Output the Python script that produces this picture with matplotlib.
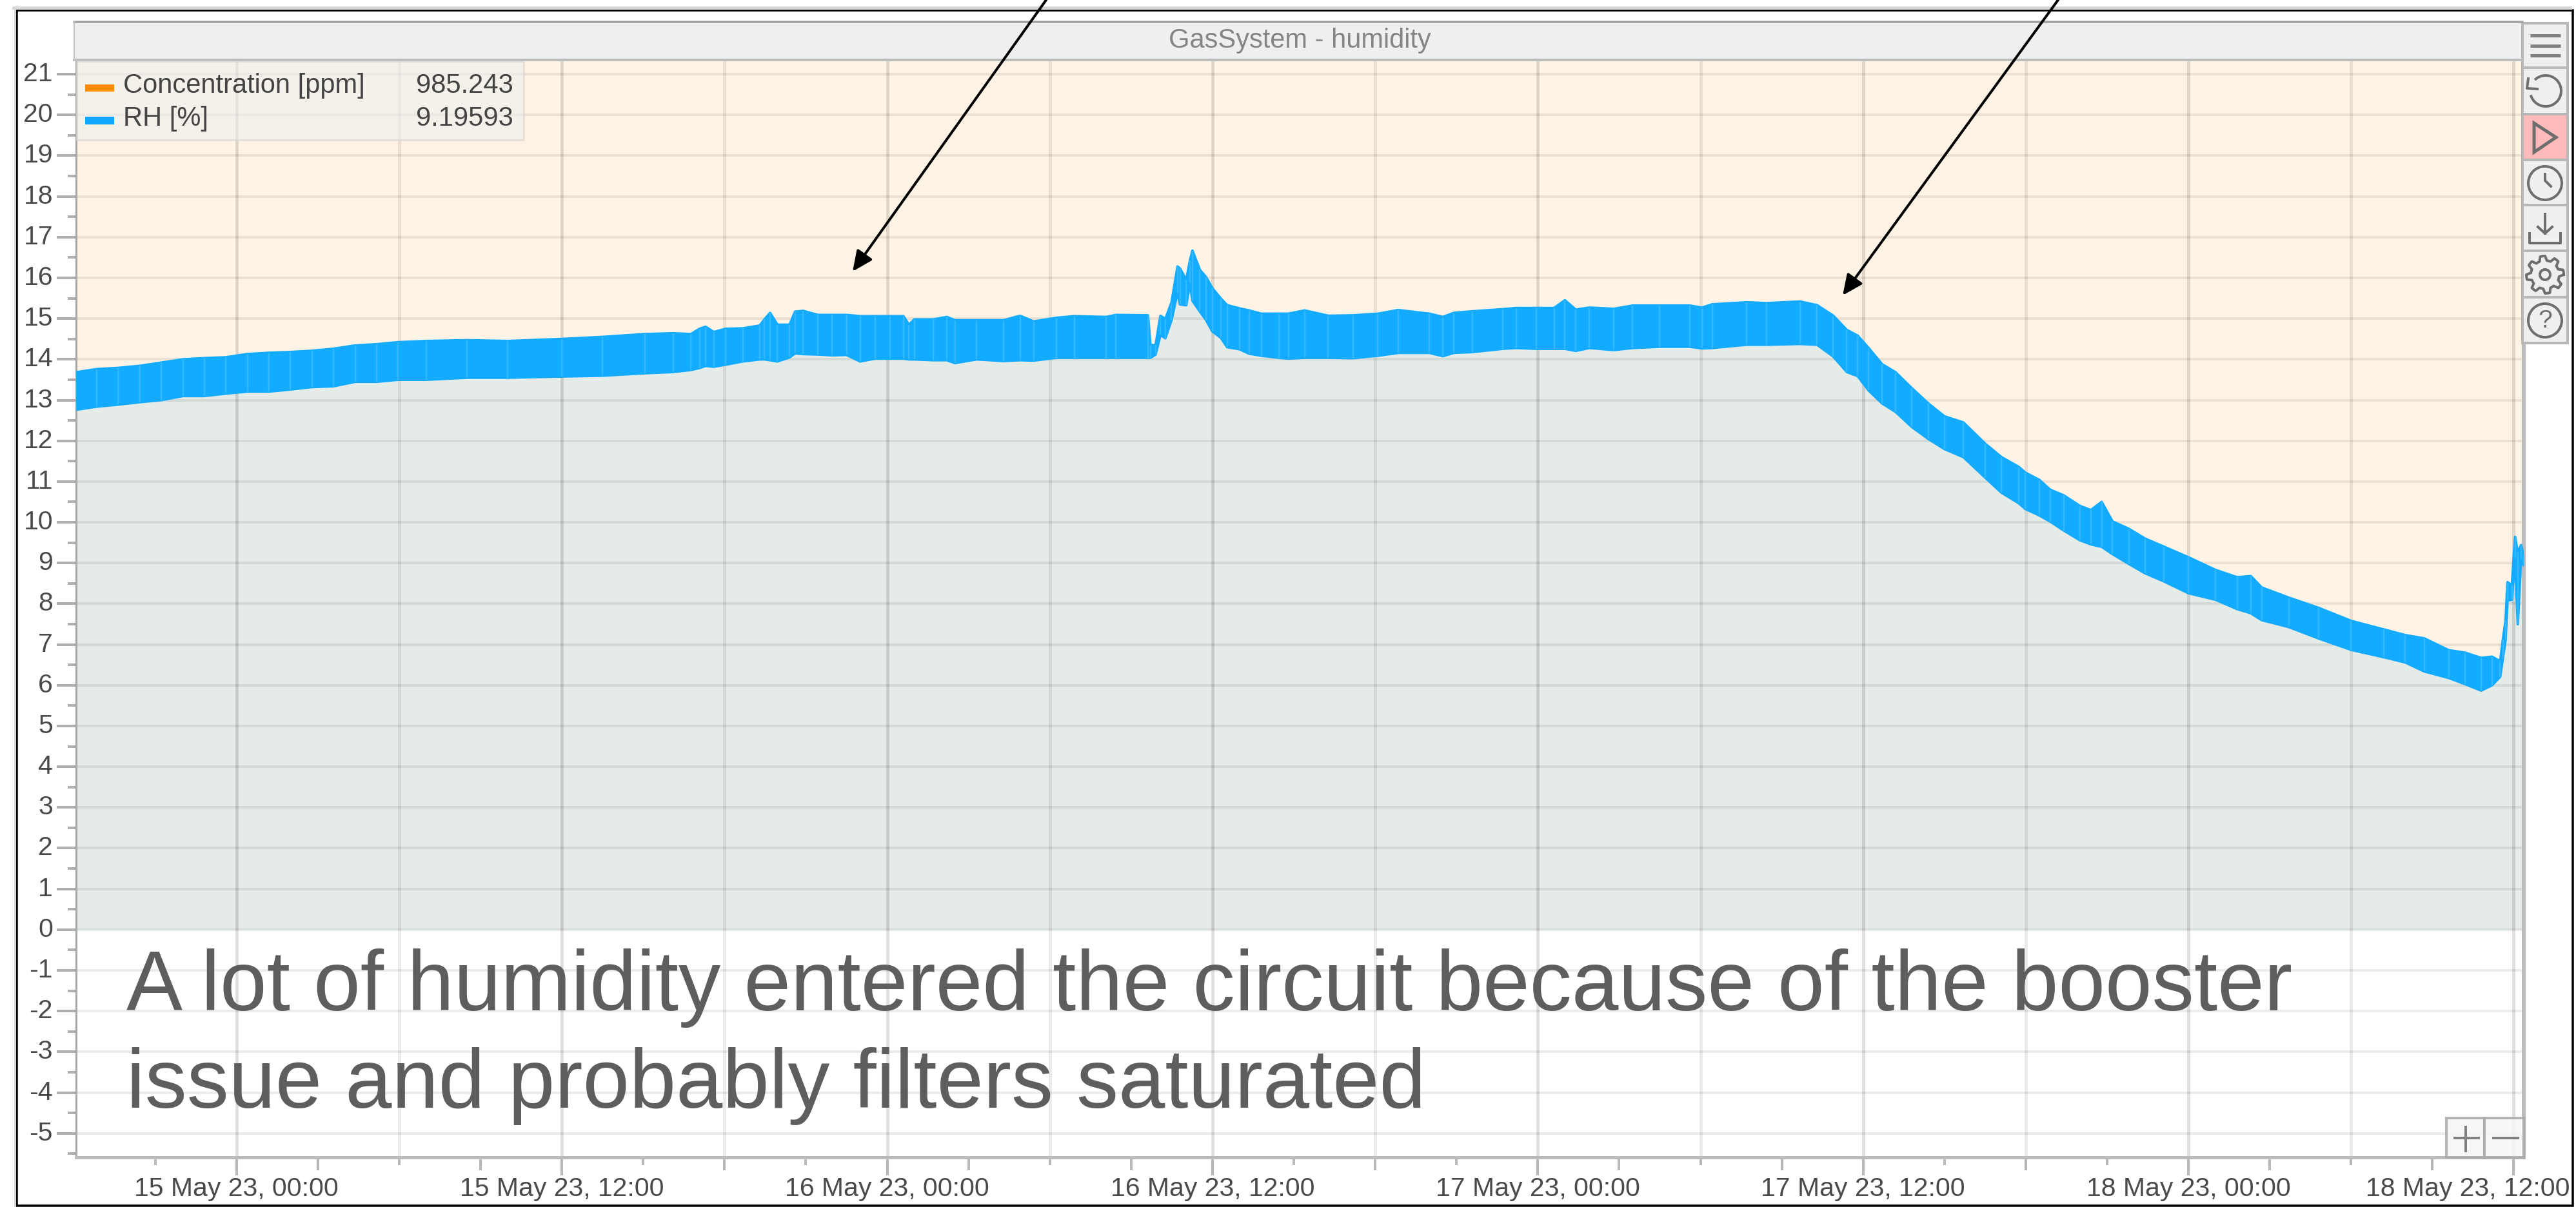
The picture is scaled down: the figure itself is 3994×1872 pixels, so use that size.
# GasSystem humidity panel, screenshot style with toolbar and notes on top
import numpy as np
import matplotlib
matplotlib.use('Agg')
import matplotlib.pyplot as plt
import matplotlib.patches as patches
from matplotlib.transforms import ScaledTranslation

plt.rcParams['font.family'] = ['Liberation Sans', 'DejaVu Sans']
plt.rcParams['axes.unicode_minus'] = False

# data, x in hours after 15 May 23 00:00
rh_hours = [-5.95, -5.16, -4.37, -3.57, -2.78, -1.98, -1.19, -0.4, 0.4, 1.19,
            1.98, 2.78, 3.57, 4.37, 5.16, 5.95, 7, 8.5, 10, 12,
            13.5, 15.06, 16.1, 16.76, 17.08, 17.3, 17.6, 18.04, 18.67, 19.3,
            19.47, 19.68, 19.95, 20.4, 20.6, 20.9, 21.44, 21.97, 22.5, 23.0,
            23.56, 24.1, 24.6, 24.8, 25, 25.7, 26.2, 26.5, 27.3, 28.3,
            28.9, 29.4, 30.25, 30.9, 32.07, 32.44, 33.62, 33.71, 33.9, 34.08,
            34.26, 34.49, 34.71, 34.8, 35.03, 35.17, 35.26, 35.53, 35.76, 35.99,
            36.31, 36.54, 37, 37.35, 37.8, 38.45, 38.8, 39.4, 40.27, 41.18,
            42.1, 42.85, 44, 44.5, 44.9, 45.6, 46.7, 47.2, 47.95, 48.6,
            49, 49.4, 49.9, 50.8, 51.5, 52.5, 53.6, 54.06, 54.43, 55.7,
            56.45, 57.67, 58.3, 58.9, 59.4, 59.8, 60.2, 60.7, 61.2, 61.8,
            62.4, 63, 63.7, 64.5, 65.1, 65.74, 65.98, 66.5, 66.9, 67.4,
            68, 68.4, 68.8, 69.2, 69.8, 70.4, 71.1, 72, 73, 73.8,
            74.3, 74.7, 75.7, 76.8, 78, 79.2, 80, 80.7, 81.6, 82.2,
            82.8, 83.2, 83.5, 83.6, 83.7, 83.77, 83.93, 84.05, 84.15, 84.27,
            84.37]
rh_high = [13.68, 13.76, 13.79, 13.84, 13.92, 14.0, 14.03, 14.05, 14.13, 14.16,
           14.18, 14.21, 14.26, 14.34, 14.37, 14.42, 14.45, 14.47, 14.45, 14.5,
           14.55, 14.62, 14.64, 14.62, 14.75, 14.80, 14.67, 14.75, 14.76, 14.83,
           14.98, 15.14, 14.85, 14.85, 15.17, 15.19, 15.09, 15.09, 15.09, 15.06,
           15.06, 15.06, 15.06, 14.85, 14.98, 14.98, 15.04, 14.96, 14.96, 14.96,
           15.07, 14.93, 15.02, 15.06, 15.04, 15.09, 15.08, 14.35, 14.35, 15.07,
           14.99, 15.4, 16.28, 16.23, 15.95, 16.43, 16.67, 16.2, 16.02, 15.75,
           15.49, 15.33, 15.25, 15.2, 15.12, 15.12, 15.12, 15.2, 15.07, 15.08,
           15.12, 15.21, 15.12, 15.04, 15.14, 15.18, 15.23, 15.26, 15.26, 15.26,
           15.45, 15.22, 15.27, 15.24, 15.32, 15.32, 15.32, 15.27, 15.35, 15.4,
           15.38, 15.42, 15.33, 15.07, 14.72, 14.58, 14.28, 13.88, 13.68, 13.29,
           12.92, 12.6, 12.45, 11.93, 11.6, 11.36, 11.22, 11.04, 10.8, 10.66,
           10.4, 10.3, 10.5, 10.02, 9.84, 9.6, 9.4, 9.14, 8.83, 8.65,
           8.68, 8.4, 8.15, 7.9, 7.58, 7.37, 7.23, 7.15, 6.86, 6.8,
           6.67, 6.7, 6.59, 7.12, 7.6, 8.53, 8.45, 9.64, 9.25, 9.44,
           9.2]
rh_low = [12.76, 12.84, 12.89, 12.95, 13.0, 13.1, 13.1, 13.16, 13.21, 13.21,
          13.26, 13.32, 13.34, 13.45, 13.45, 13.5, 13.5, 13.55, 13.55, 13.58,
          13.6, 13.66, 13.69, 13.74, 13.79, 13.84, 13.82, 13.87, 13.95, 14.0,
          14.0, 13.98, 13.95, 14.05, 14.15, 14.13, 14.12, 14.1, 14.11, 13.95,
          14.02, 14.02, 14.02, 14.0, 14.0, 13.98, 13.98, 13.91, 14.0, 13.96,
          13.98, 13.97, 14.04, 14.04, 14.04, 14.04, 14.04, 14.04, 14.12, 14.6,
          14.52, 14.97, 15.64, 15.35, 15.33, 15.87, 15.44, 15.18, 14.97, 14.69,
          14.53, 14.3, 14.25, 14.14, 14.09, 14.04, 14.02, 14.04, 14.04, 14.03,
          14.09, 14.16, 14.16, 14.08, 14.16, 14.18, 14.26, 14.28, 14.26, 14.26,
          14.26, 14.21, 14.28, 14.23, 14.28, 14.31, 14.31, 14.27, 14.28, 14.36,
          14.36, 14.38, 14.36, 14.07, 13.69, 13.59, 13.24, 12.92, 12.71, 12.34,
          12.05, 11.8, 11.6, 11.1, 10.73, 10.47, 10.33, 10.17, 10.02, 9.8,
          9.56, 9.46, 9.4, 9.22, 8.98, 8.75, 8.55, 8.26, 8.1, 7.87,
          7.77, 7.6, 7.43, 7.15, 6.87, 6.69, 6.56, 6.34, 6.18, 6.03,
          5.87, 6.0, 6.21, 6.66, 7.12, 8.08, 8.1, 9.13, 7.5, 9.1,
          8.95]
conc_hours = [-5.95, 84.37]
conc_value = [985.243, 985.243]

x_tick_hours = [0, 12, 24, 36, 48, 60, 72, 84]
x_tick_labels = ['15 May 23, 00:00', '15 May 23, 12:00', '16 May 23, 00:00', '16 May 23, 12:00',
                 '17 May 23, 00:00', '17 May 23, 12:00', '18 May 23, 00:00', '18 May 23, 12:00']
y_ticks = list(range(-5, 22))
legend_names = ['Concentration [ppm]', 'RH [%]']
legend_values = ['985.243', '9.19593']
title = 'GasSystem - humidity'
note_lines = ['A lot of humidity entered the circuit because of the booster',
              'issue and probably filters saturated']

ORANGE = '#ff8c00'
BLUE = '#12abff'
PX = 0.72  # one image pixel in points at dpi 100

fig = plt.figure(figsize=(39.94, 18.72), dpi=100, facecolor='white')

# main plot box, pixel edges 118..3913 and 93..1795
ax = fig.add_axes([118/3994, (1872-1795)/1872, (3913-118)/3994, (1795-93)/1872])
ax.set_xlim(-5.92, 84.37)
ax.set_ylim(-5.59, 21.35)

ax.fill_between(conc_hours, 0, conc_value, color=ORANGE, alpha=0.1, lw=0, zorder=1)
ax.fill_between(rh_hours, 0, rh_low, color='#00aaff', alpha=0.1, lw=0, zorder=1.1)

# grid
for y in y_ticks:
    ax.axhline(y, color='black', alpha=0.075, lw=4*PX, zorder=2)
for h in np.arange(0, 85, 6):
    a = 0.12 if h % 12 == 0 else 0.08
    ax.axvline(h, color='black', alpha=a, lw=5*PX, zorder=2)

# the RH band
ax.fill_between(rh_hours, rh_low, rh_high, color=BLUE, lw=0, zorder=3)
ax.plot(rh_hours, rh_high, color=BLUE, lw=4*PX, zorder=3)
ax.plot(rh_hours, rh_low, color=BLUE, lw=4*PX, zorder=3)
ax.vlines(rh_hours, rh_low, rh_high, color='#55c4ff', lw=2.5*PX, alpha=0.5, zorder=3.1)

# axes and ticks
ax.spines['top'].set_visible(False)
ax.spines['left'].set_color('#a4a4a4')
ax.spines['left'].set_linewidth(3*PX)
ax.spines['bottom'].set_color('#bbbbbb')
ax.spines['bottom'].set_linewidth(5*PX)
ax.spines['right'].set_color('#bbbbbb')
ax.spines['right'].set_linewidth(6*PX)

ax.set_yticks(y_ticks)
ax.set_yticks(np.arange(-5.5, 21, 1), minor=True)
ax.tick_params(axis='y', which='major', length=30*PX, width=4*PX, color='#b0b0b0',
               labelsize=29.5, labelcolor='#4a4a4a', pad=6*PX)
ax.tick_params(axis='y', which='minor', length=13*PX, width=4*PX, color='#b0b0b0')
up = ScaledTranslation(0, 4/100, fig.dpi_scale_trans)
for lab in ax.get_yticklabels():
    lab.set_transform(lab.get_transform() + up)

ax.set_xticks(x_tick_hours)
ax.set_xticklabels(x_tick_labels)
ax.set_xticks(np.arange(-3, 85, 3), minor=True)
ax.tick_params(axis='x', which='major', length=28*PX, width=4*PX, color='#b8b8b8',
               labelsize=29.5, labelcolor='#4a4a4a', pad=2*PX)
ax.tick_params(axis='x', which='minor', length=12*PX, width=4*PX, color='#b8b8b8')
for tick, h in zip(ax.xaxis.get_minor_ticks(), np.arange(-3, 85, 3)):
    if h % 6 == 0:
        tick.tick1line.set_markersize(20*PX)
last = ax.get_xticklabels()[-1]
last.set_transform(last.get_transform() + ScaledTranslation(-0.71, 0, fig.dpi_scale_trans))

# everything else is page furniture, drawn in image pixels
ov = fig.add_axes([0, 0, 1, 1], zorder=5)
ov.set_xlim(0, 3994)
ov.set_ylim(1872, 0)
ov.axis('off')
ov.patch.set_alpha(0)

# outer frame of the slide
ov.plot([21, 3985], [12, 12], color='#d8d8d8', lw=5*PX)
ov.plot([23, 23], [12, 1870], color='#d8d8d8', lw=3*PX)
ov.add_patch(patches.Rectangle((26, 16), 3963, 1854, fc='none', ec='black', lw=3.5*PX))

# header
ov.add_patch(patches.Rectangle((115, 34), 3796, 59, fc='#efefef', ec='none'))
ov.plot([115, 3911], [34, 34], color='#a0a0a0', lw=3.5*PX)
ov.plot([115, 3911], [93, 93], color='#bdbdbd', lw=4*PX)
ov.plot([115, 115], [34, 93], color='#c4c4c4', lw=2*PX)
ov.text(2015, 63, title, fontsize=30, color='#858585', ha='center', va='center')

# legend
ov.add_patch(patches.Rectangle((119, 95), 693, 122, fc='#eeeeee', ec='#d8d4cc', alpha=0.6, lw=3*PX))
ov.add_patch(patches.Rectangle((132, 131), 45, 11, fc=ORANGE, ec='none'))
ov.add_patch(patches.Rectangle((132, 181), 45, 12, fc='#0fa8ff', ec='none'))
for name, val, yy in zip(legend_names, legend_values, [133, 184]):
    ov.text(191, yy, name, fontsize=30, color='#444444', ha='left', va='center')
    ov.text(796, yy, val, fontsize=30, color='#444444', ha='right', va='center')

# toolbar
ICON = '#6e6e6e'
edges = [36, 105, 177, 248, 318, 389, 461, 532]
for i in range(7):
    fc = '#ffbbbb' if i == 2 else '#efefef'
    ov.add_patch(patches.Rectangle((3911, edges[i]), 70, edges[i+1]-edges[i], fc=fc, ec='#b8b8b8', lw=4*PX))
for yy in [55, 71, 86]:
    ov.plot([3923, 3970], [yy, yy], color='#808080', lw=5*PX, solid_capstyle='butt')
# undo
t = np.radians(np.linspace(130, -160, 60))
ov.plot(3947 + 24*np.cos(t), 141 - 24*np.sin(t), color=ICON, lw=4*PX)
ov.plot([3920, 3918, 3934], [122, 137, 138], color=ICON, lw=4*PX)
# play
ov.add_patch(patches.Polygon([(3929, 191), (3929, 236), (3963, 213)], fc='none', ec=ICON, lw=5*PX))
# clock
ov.add_patch(patches.Circle((3946, 284), 26, fc='none', ec=ICON, lw=4*PX))
ov.plot([3946, 3946, 3955], [270, 280, 289], color=ICON, lw=4*PX)
# download
ov.plot([3946, 3946], [332, 362], color=ICON, lw=4*PX)
ov.plot([3935, 3946, 3957], [352, 362, 352], color=ICON, lw=4*PX)
ov.plot([3922, 3922, 3970, 3970], [362, 377, 377, 362], color=ICON, lw=4*PX)
# gear
ang = np.radians(np.arange(0, 360.1, 360/48))
rad = np.where((np.arange(len(ang)) % 6) < 3, 29, 22)
ov.plot(3946 + rad*np.cos(ang), 426 - rad*np.sin(ang), color=ICON, lw=4*PX)
ov.add_patch(patches.Circle((3946, 426), 8, fc='none', ec=ICON, lw=4*PX))
# help
ov.add_patch(patches.Circle((3946, 497), 26, fc='none', ec=ICON, lw=4*PX))
ov.text(3946, 498, '?', fontsize=28, color=ICON, ha='center', va='center')

# zoom buttons
for x0, w in [(3793, 59), (3852, 61)]:
    ov.add_patch(patches.Rectangle((x0, 1734), w, 61, fc='#f6f6f6', ec='#a8a8a8', alpha=0.85, lw=4*PX))
ov.plot([3806, 3843], [1765, 1765], color='#808080', lw=4*PX)
ov.plot([3823, 3823], [1748, 1785], color='#808080', lw=4*PX)
ov.plot([3866, 3904], [1765, 1765], color='#808080', lw=4*PX)

# note text
ov.text(196, 1567, note_lines[0], fontsize=94, color='#5e5e5e', ha='left', va='baseline')
ov.text(196, 1718, note_lines[1], fontsize=93.5, color='#5e5e5e', ha='left', va='baseline')

# arrows coming in from above the slide
for start, tip in [((1622, 0), (1322, 421)), ((3191, 0), (2857, 458))]:
    ov.annotate('', xy=tip, xytext=start,
                arrowprops=dict(arrowstyle='-|>,head_length=1.2,head_width=0.55', color='black',
                                lw=4*PX, shrinkA=0, shrinkB=0, mutation_scale=16))

fig.savefig('out.png', dpi=100)
